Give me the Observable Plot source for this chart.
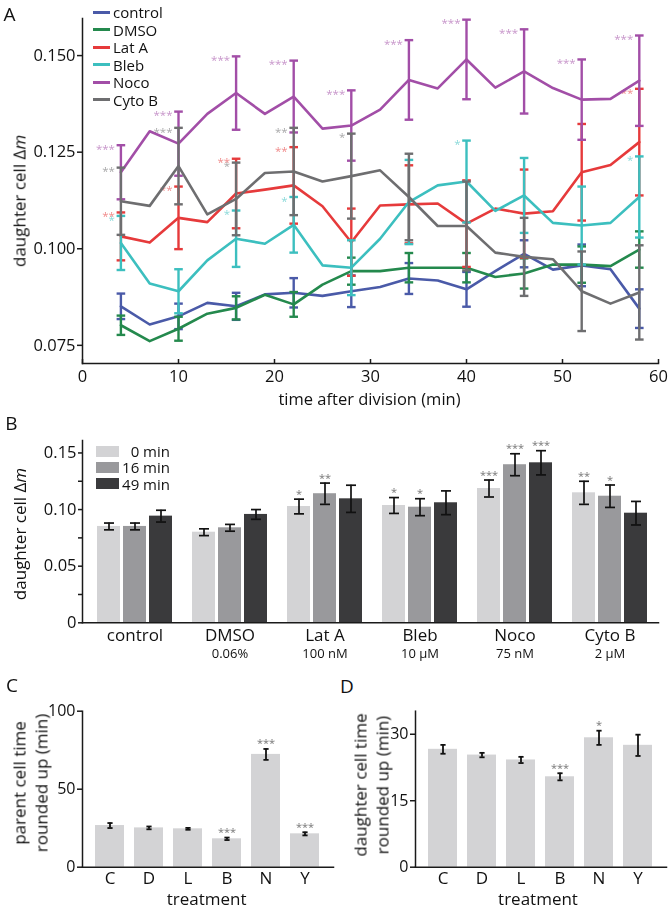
<!DOCTYPE html>
<html><head><meta charset="utf-8">
<script src="https://cdn.jsdelivr.net/npm/d3@7"></script>
<script src="https://cdn.jsdelivr.net/npm/@observablehq/plot@0.6"></script>
<style>
body{margin:0;background:#fff;}
#fig{position:relative;width:672px;height:910px;font-family:"Open Sans",sans-serif;color:#111;overflow:hidden;background:#fff;}
#fig svg{will-change:transform;}
.t{position:absolute;white-space:nowrap;line-height:1;transform:translate(-50%,-50%);}
.r{transform:translate(-50%,-50%) rotate(-90deg);text-align:center;}
</style>
</head><body><div id="fig"></div>
<script>
// ---------- Panel A data ----------
const time = [4,7,10,13,16,19,22,25,28,31,34,37,40,43,46,49,52,55,58];
const errTimes = [4,10,16,22,28,34,40,46,52,58];
const seriesNames = ["control","DMSO","Lat A","Bleb","Noco","Cyto B"];
const seriesColors = ["#4a5aa8","#24894d","#e63a3b","#3cbfbf","#a24ea7","#6e6e70"];

const control = [0.0851,0.0804,0.0825,0.0860,0.0851,0.0882,0.0886,0.0878,0.0890,0.0901,0.0923,0.0918,0.0895,0.0942,0.0987,0.0946,0.0957,0.0947,0.0845];
const controlErr = [0.0033,0.0033,0.0035,0.0038,0.0041,0.0040,0.0045,0.0035,0.0054,0.0050];
const controlStars = ["","","","","","","","","",""];

const dmso = [0.0802,0.0761,0.0793,0.0832,0.0847,0.0881,0.0856,0.0907,0.0942,0.0942,0.0951,0.0951,0.0951,0.0927,0.0936,0.0959,0.0959,0.0955,0.0998];
const dmsoErr = [0.0025,0.0031,0.0030,0.0032,0.0035,0.0038,0.0038,0.0039,0.0047,0.0047];
const dmsoStars = ["","","","","","","","","",""];

const latA = [0.1032,0.1016,0.1080,0.1069,0.1143,0.1153,0.1164,0.1110,0.1017,0.1112,0.1115,0.1117,0.1065,0.1104,0.1091,0.1097,0.1198,0.1217,0.1276];
const latAErr = [0.0062,0.0081,0.0090,0.0099,0.0087,0.0101,0.0112,0.0114,0.0125,0.0138];
const latAStars = ["**","**","**","**","","","","","","**"];

const bleb = [0.1015,0.0910,0.0890,0.0970,0.1026,0.1013,0.1062,0.0957,0.0951,0.1026,0.1121,0.1164,0.1174,0.1098,0.1138,0.1067,0.1060,0.1067,0.1134];
const blebErr = [0.0070,0.0057,0.0073,0.0072,0.0071,0.0109,0.0106,0.0097,0.0101,0.0105];
const blebStars = ["*","","*","*","","","*","","","*"];

const noco = [0.1198,0.1304,0.1272,0.1349,0.1403,0.1349,0.1394,0.1311,0.1319,0.1360,0.1437,0.1415,0.1490,0.1417,0.1459,0.1416,0.1386,0.1388,0.1435];
const nocoErr = [0.0070,0.0083,0.0095,0.0093,0.0091,0.0103,0.0103,0.0109,0.0104,0.0117];
const nocoStars = ["***","***","***","***","***","***","***","***","***","***"];

const cytoB = [0.1123,0.1111,0.1214,0.1089,0.1129,0.1196,0.1200,0.1174,0.1188,0.1203,0.1134,0.1059,0.1059,0.0990,0.0979,0.0973,0.0890,0.0858,0.0887];
const cytoBErr = [0.0087,0.0099,0.0094,0.0113,0.0110,0.0112,0.0115,0.0101,0.0103,0.0122];
const cytoBStars = ["**","***","*","**","*","","","","",""];

const aTicksY = [0.075,0.100,0.125,0.150];
const aTicksX = [0,10,20,30,40,50,60];

// ---------- Panel B data ----------
const bGroups = ["control","DMSO","Lat A","Bleb","Noco","Cyto B"];
const bConc = ["","0.06%","100 nM","10 \u03bcM","75 nM","2 \u03bcM"];
const bTimes = ["0 min","16 min","49 min"];
const bColors = ["#d3d3d5","#99999c","#3a3a3c"];
const b0 = [0.0851,0.0800,0.1027,0.1036,0.1186,0.1148];
const b0Err = [0.0030,0.0030,0.0065,0.0070,0.0075,0.0102];
const b0Stars = ["","","*","*","***","**"];
const b16 = [0.0851,0.0839,0.1140,0.1021,0.1396,0.1118];
const b16Err = [0.0030,0.0030,0.0094,0.0075,0.0097,0.0099];
const b16Stars = ["","","**","*","***","*"];
const b49 = [0.0942,0.0957,0.1095,0.1060,0.1413,0.0968];
const b49Err = [0.0052,0.0043,0.0120,0.0105,0.0107,0.0104];
const b49Stars = ["","","","","***",""];
const bTicksY = [0,0.025,0.05,0.075,0.1,0.125,0.15];

// ---------- Panels C, D data ----------
const treatments = ["C","D","L","B","N","Y"];
const parentTime = [26.7,25.2,24.6,18.2,72.3,21.4];
const parentErr = [1.6,0.9,0.6,0.8,3.5,1.0];
const parentStars = ["","","","***","***","***"];
const daughterTime = [26.6,25.3,24.2,20.4,29.2,27.5];
const daughterErr = [1.0,0.5,0.7,0.8,1.6,2.4];
const daughterStars = ["","","","***","*",""];
const cTicksY = [0,50,100];
const dTicksY = [0,15,30];

// ---------- helpers ----------
const fig = document.getElementById("fig");
const cap = {draw(ctx, size){ const r = Math.sqrt(size/Math.PI); ctx.moveTo(-r,0); ctx.lineTo(r,0); }};
const AX = "#1a1a1a";
function place(svg, left, top){
  svg.style.position = "absolute";
  svg.style.left = left + "px";
  svg.style.top = top + "px";
  svg.style.background = "transparent";
  svg.style.maxWidth = "none";
  svg.style.overflow = "visible";
  fig.appendChild(svg);
}
function label(html, x, y, size, rotate, extra){
  const d = document.createElement("div");
  d.className = "t" + (rotate ? " r" : "");
  d.style.left = x + "px"; d.style.top = y + "px";
  d.style.fontSize = size + "px";
  if (extra) Object.assign(d.style, extra);
  d.innerHTML = html;
  fig.appendChild(d);
  return d;
}

// ---------- Panel A ----------
const seriesDefs = [
  {v: control, e: controlErr, s: controlStars},
  {v: dmso, e: dmsoErr, s: dmsoStars},
  {v: latA, e: latAErr, s: latAStars},
  {v: bleb, e: blebErr, s: blebStars},
  {v: noco, e: nocoErr, s: nocoStars},
  {v: cytoB, e: cytoBErr, s: cytoBStars}
].map((d, i) => ({...d, name: seriesNames[i], color: seriesColors[i]}));

const aMarks = [];
for (const s of seriesDefs) {
  const pts = time.map((t, i) => ({t, v: s.v[i]}));
  const eb = errTimes.map((t, j) => ({t, v: s.v[time.indexOf(t)], e: s.e[j], star: s.s[j]}));
  aMarks.push(
    Plot.line(pts, {x: "t", y: "v", stroke: s.color, strokeWidth: 2.6}),
    Plot.ruleX(eb, {x: "t", y1: d => d.v - d.e, y2: d => d.v + d.e, stroke: s.color, strokeWidth: 2.4}),
    Plot.dot(eb, {x: "t", y: d => d.v - d.e, symbol: cap, r: 4.3, stroke: s.color, strokeWidth: 2.4, fill: "none"}),
    Plot.dot(eb, {x: "t", y: d => d.v + d.e, symbol: cap, r: 4.3, stroke: s.color, strokeWidth: 2.4, fill: "none"}),
    Plot.text(eb.filter(d => d.star), {x: "t", y: d => d.v + d.e, text: "star", fill: s.color, fillOpacity: 0.6,
      textAnchor: "end", dx: -6, dy: 4, fontSize: 11.5})
  );
}
const plotA = Plot.plot({
  width: 672, height: 395, marginLeft: 82, marginRight: 14, marginTop: 18, marginBottom: 32,
  style: {fontFamily: "Open Sans", fontSize: "16.5px", color: "#111"},
  x: {domain: [0, 60], label: null},
  y: {domain: [0.0703, 0.1596], label: null},
  marks: [
    Plot.frame({anchor: "left", stroke: AX, strokeWidth: 1.5}),
    Plot.frame({anchor: "bottom", stroke: AX, strokeWidth: 1.5}),
    Plot.axisY(aTicksY, {tickFormat: d3.format(".3f"), tickSize: 5, tickPadding: 2, stroke: AX, strokeWidth: 1.5, label: null}),
    Plot.axisX(aTicksX, {tickSize: -4, tickPadding: 11, stroke: AX, strokeWidth: 1.5, label: null}),
    ...aMarks
  ]
});
place(plotA, 0, 0);

// legend A
seriesNames.forEach((n, i) => {
  const y = 12.3 + i * 17.5;
  const ln = document.createElement("div");
  Object.assign(ln.style, {position: "absolute", left: "92.5px", top: (y - 1.5) + "px", width: "17.5px", height: "3px", background: seriesColors[i]});
  fig.appendChild(ln);
  label(n, 0, y, 15, false, {transform: "translate(0,-50%)", left: "113px"});
});

label("A", 9.5, 13.5, 19, false);
label("daughter cell \u0394<i>m</i>", 19, 201, 17, true);
label("time after division (min)", 369.5, 399, 16.5, false);

// ---------- Panel B ----------
const bSeries = [[b0, b0Err, b0Stars], [b16, b16Err, b16Stars], [b49, b49Err, b49Stars]];
const bData = [];
bGroups.forEach((g, gi) => bTimes.forEach((tm, ti) => {
  const [v, e, s] = bSeries[ti];
  bData.push({group: g, time: tm, v: v[gi], e: e[gi], star: s[gi]});
}));
const concData = bGroups.map((g, i) => ({group: g, conc: bConc[i]}));
const bYDomain = [0, 0.161];

const plotB = Plot.plot({
  width: 672, height: 240, marginLeft: 84, marginRight: 12, marginTop: 10, marginBottom: 47.7,
  style: {fontFamily: "Open Sans", fontSize: "17px", color: "#111"},
  fx: {domain: bGroups, paddingInner: 0.19, paddingOuter: 0.114, axis: "bottom", tickSize: 0, tickPadding: 6, label: null},
  x: {domain: bTimes, paddingInner: 0.13, paddingOuter: 0, axis: null},
  y: {domain: bYDomain, axis: null},
  color: {domain: bTimes, range: bColors},
  marks: [
    Plot.barY(bData, {fx: "group", x: "time", y: "v", fill: "time"}),
    Plot.ruleX(bData, {fx: "group", x: "time", y1: d => d.v - d.e, y2: d => d.v + d.e, stroke: "#111", strokeWidth: 1.7}),
    Plot.dot(bData, {fx: "group", x: "time", y: d => d.v - d.e, symbol: cap, r: 5, stroke: "#111", strokeWidth: 1.7, fill: "none"}),
    Plot.dot(bData, {fx: "group", x: "time", y: d => d.v + d.e, symbol: cap, r: 5, stroke: "#111", strokeWidth: 1.7, fill: "none"}),
    Plot.text(bData.filter(d => d.star), {fx: "group", x: "time", y: d => d.v + d.e, text: "star", dy: -5, fontSize: 11, fill: "#777"}),
    Plot.text(concData, {fx: "group", text: "conc", frameAnchor: "bottom", dy: 35, fontSize: 13})
  ]
});
place(plotB, 0, 430);

const plotBAxis = Plot.plot({
  width: 672, height: 240, marginLeft: 82, marginRight: 14, marginTop: 10, marginBottom: 47.7,
  style: {fontFamily: "Open Sans", fontSize: "16.5px", color: "#111", background: "transparent"},
  x: {domain: [0, 1], axis: null},
  y: {domain: bYDomain, label: null},
  marks: [
    Plot.frame({anchor: "left", stroke: AX, strokeWidth: 1.5}),
    Plot.frame({anchor: "bottom", stroke: AX, strokeWidth: 1.5}),
    Plot.axisY(bTicksY, {tickFormat: d => (Math.round(d * 1000) % 50 === 0) ? (d === 0 ? "0" : d.toFixed(2)) : "",
      tickSize: 4, tickPadding: 2, stroke: AX, strokeWidth: 1.5, label: null})
  ]
});
place(plotBAxis, 0, 430);

// legend B
bTimes.forEach((tm, i) => {
  const y = 451 + i * 16.3;
  const sw = document.createElement("div");
  Object.assign(sw.style, {position: "absolute", left: "96px", top: (y - 5.5) + "px", width: "23px", height: "11px", background: bColors[i]});
  fig.appendChild(sw);
  label(tm, 170, y, 15, false, {transform: "translate(-100%,-50%)"});
});
label("B", 11.3, 423.3, 19, false);
label("daughter cell \u0394<i>m</i>", 19, 534, 17, true);

// ---------- Panels C & D ----------
function smallBars(values, errs, stars, ticks, yMax, marginLeft, marginRight, width, stepPadOuter){
  const data = treatments.map((t, i) => ({t, v: values[i], e: errs[i], star: stars[i]}));
  return Plot.plot({
    width, height: 210, marginLeft, marginRight, marginTop: 10.7, marginBottom: 43.3,
    style: {fontFamily: "Open Sans", fontSize: "17px", color: "#111"},
    x: {domain: treatments, paddingInner: 0.25, paddingOuter: stepPadOuter, label: null},
    y: {domain: [0, yMax], label: null},
    marks: [
      Plot.barY(data, {x: "t", y: "v", fill: "#d3d3d5"}),
      Plot.ruleX(data, {x: "t", y1: d => d.v - d.e, y2: d => d.v + d.e, stroke: "#111", strokeWidth: 1.8}),
      Plot.dot(data, {x: "t", y: d => d.v - d.e, symbol: cap, r: 2.6, stroke: "#111", strokeWidth: 1.8, fill: "none"}),
      Plot.dot(data, {x: "t", y: d => d.v + d.e, symbol: cap, r: 2.6, stroke: "#111", strokeWidth: 1.8, fill: "none"}),
      Plot.text(data.filter(d => d.star), {x: "t", y: d => d.v + d.e, text: "star", dy: -5, fontSize: 11, fill: "#777"}),
      Plot.frame({anchor: "left", stroke: AX, strokeWidth: 1.5}),
      Plot.frame({anchor: "bottom", stroke: AX, strokeWidth: 1.5}),
      Plot.axisY(ticks, {tickSize: 5, tickPadding: 2, stroke: AX, strokeWidth: 1.5, fontSize: 16, label: null}),
      Plot.axisX({tickSize: 0, tickPadding: 5, label: null})
    ]
  });
}
const plotC = smallBars(parentTime, parentErr, parentStars, cTicksY, 100, 82, 3, 336, 0.3);
place(plotC, 0, 700);
const plotD = smallBars(daughterTime, daughterErr, daughterStars, dTicksY, 35.2, 82, 6, 339, 0.296);
place(plotD, 333, 700);

label("C", 12, 685, 19, false);
label("D", 347, 686, 19, false);
label("parent cell time<br>rounded up (min)", 30, 783, 17, true, {lineHeight: "21.5px"});
label("daughter cell time<br>rounded up (min)", 371, 785, 17, true, {lineHeight: "21.5px"});
label("treatment", 206.7, 898, 17, false);
label("treatment", 538, 898, 17, false);
</script>
</body></html>
